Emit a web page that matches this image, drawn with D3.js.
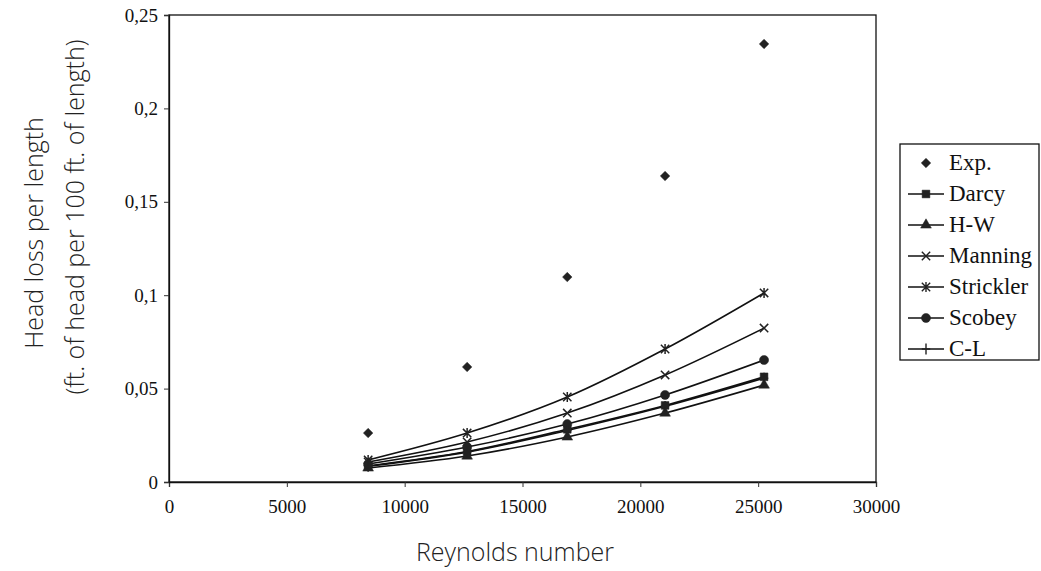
<!DOCTYPE html>
<html>
<head>
<meta charset="utf-8">
<script src="https://cdn.jsdelivr.net/npm/d3@7"></script>
<style>
  body { margin: 0; background: #fff; }
  svg { display: block; }
</style>
</head>
<body>
<div id="chart"></div>
<script>
// datos del grafico
var reynolds = [8450, 12650, 16900, 21050, 25250];
var expData = [0.0262, 0.0616, 0.1097, 0.1638, 0.2345];
var darcy = [0.0086, 0.0163, 0.0282, 0.0410, 0.0563];
var hw = [0.0075, 0.0139, 0.0241, 0.0369, 0.0519];
var manning = [0.0107, 0.0214, 0.0369, 0.0573, 0.0824];
var strickler = [0.0118, 0.0262, 0.0455, 0.0712, 0.1012];
var scobey = [0.0096, 0.0187, 0.0310, 0.0466, 0.0653];
var cl = [0.0084, 0.0160, 0.0276, 0.0405, 0.0556];

var xTicks = [0, 5000, 10000, 15000, 20000, 25000, 30000];
var yTicks = [0, 0.05, 0.1, 0.15, 0.2, 0.25];

var W = 1041, H = 571;
// ojo: "top" es window.top, no se puede usar
var pLeft = 169, pRight = 876, pTop = 15, pBottom = 482;

var svg = d3.select("#chart").append("svg")
  .attr("width", W).attr("height", H);

var x = d3.scaleLinear().domain([0, 30000]).range([pLeft, pRight]);
var y = d3.scaleLinear().domain([0, 0.25]).range([pBottom, pTop]);

// marcadores propios
var symX = {draw: function(c, s) {
  var r = Math.sqrt(s) / 2;
  c.moveTo(-r, -r); c.lineTo(r, r);
  c.moveTo(-r, r); c.lineTo(r, -r);
}};
var symStar = {draw: function(c, s) {
  var r = Math.sqrt(s) / 2;
  c.moveTo(-r, -r); c.lineTo(r, r);
  c.moveTo(-r, r); c.lineTo(r, -r);
  c.moveTo(0, -r * 1.2); c.lineTo(0, r * 1.2);
}};
var symPlus = {draw: function(c, s) {
  var r = Math.sqrt(s) / 2;
  c.moveTo(-r, 0); c.lineTo(r, 0);
  c.moveTo(0, -r * 1.3); c.lineTo(0, r * 1.3);
}};
var symDiamond = {draw: function(c, s) {
  var r = Math.sqrt(s) / 2;
  c.moveTo(0, -r); c.lineTo(r, 0); c.lineTo(0, r); c.lineTo(-r, 0); c.closePath();
}};

var series = [
  {name: "Exp.", values: expData, line: false, type: symDiamond, size: 90, fill: true},
  {name: "Darcy", values: darcy, line: true, type: d3.symbolSquare, size: 60, fill: true},
  {name: "H-W", values: hw, line: true, type: d3.symbolTriangle, size: 50, fill: true},
  {name: "Manning", values: manning, line: true, type: symX, size: 70, fill: false},
  {name: "Strickler", values: strickler, line: true, type: symStar, size: 70, fill: false},
  {name: "Scobey", values: scobey, line: true, type: d3.symbolCircle, size: 65, fill: true},
  {name: "C-L", values: cl, line: true, type: symPlus, size: 70, fill: false}
];

// marco
svg.append("rect")
  .attr("x", pLeft).attr("y", pTop)
  .attr("width", pRight - pLeft).attr("height", pBottom - pTop)
  .attr("fill", "none").attr("stroke", "#111").attr("stroke-width", 1.3);

var fmt = function(d) { return d === 0 ? "0" : d3.format("~g")(d).replace(".", ","); };

var gx = svg.append("g")
  .attr("transform", "translate(0," + pBottom + ")")
  .call(d3.axisBottom(x).tickValues(xTicks).tickSize(5).tickPadding(13).tickFormat(d3.format("d")));
var gy = svg.append("g")
  .attr("transform", "translate(" + pLeft + ",0)")
  .call(d3.axisLeft(y).tickValues(yTicks).tickSize(5).tickPadding(6).tickFormat(fmt));

[gx, gy].forEach(function(g) {
  g.select(".domain").attr("stroke", "#111").attr("stroke-width", 1.3);
  g.selectAll(".tick line").attr("stroke", "#333");
  g.selectAll("text")
    .attr("fill", "#111")
    .style("font-family", "'Liberation Serif', 'DejaVu Serif', serif")
    .style("font-size", "19px");
});

var line = d3.line()
  .x(function(d, i) { return x(reynolds[i]); })
  .y(function(d) { return y(d); })
  .curve(d3.curveMonotoneX);

series.forEach(function(s) {
  if (s.line) {
    svg.append("path")
      .datum(s.values)
      .attr("d", line)
      .attr("fill", "none")
      .attr("stroke", "#111")
      .attr("stroke-width", 1.6);
  }
});

series.forEach(function(s) {
  svg.append("g").selectAll("path")
    .data(s.values).enter()
    .append("path")
    .attr("transform", function(d, i) { return "translate(" + x(reynolds[i]) + "," + y(d) + ")"; })
    .attr("d", d3.symbol().type(s.type).size(s.size))
    .attr("fill", s.fill ? "#222" : "none")
    .attr("stroke", "#222")
    .attr("stroke-width", s.fill ? 0.5 : 1.5);
});

// leyenda
var lg = svg.append("g");
lg.append("rect")
  .attr("x", 900).attr("y", 144).attr("width", 139).attr("height", 216)
  .attr("fill", "#fff").attr("stroke", "#111").attr("stroke-width", 1.3);

series.forEach(function(s, i) {
  var yy = 163 + i * 31;
  if (s.line) {
    lg.append("line")
      .attr("x1", 908).attr("x2", 944).attr("y1", yy).attr("y2", yy)
      .attr("stroke", "#111").attr("stroke-width", 1.5);
  }
  lg.append("path")
    .attr("transform", "translate(926," + yy + ")")
    .attr("d", d3.symbol().type(s.type).size(s.size))
    .attr("fill", s.fill ? "#222" : "none")
    .attr("stroke", "#222")
    .attr("stroke-width", s.fill ? 0.5 : 1.4);
  lg.append("text")
    .attr("x", 949).attr("y", yy + 7)
    .style("font-family", "'Liberation Serif', 'DejaVu Serif', serif")
    .style("font-size", "23px")
    .attr("fill", "#111")
    .text(s.name);
});

// titulos de ejes
var sans = "'Open Sans', 'Noto Sans', sans-serif";
svg.append("text")
  .attr("x", 515).attr("y", 561)
  .attr("text-anchor", "middle")
  .style("font-family", sans)
  .style("font-size", "25px")
  .style("font-weight", 300)
  .attr("fill", "#222")
  .text("Reynolds number");

svg.append("text")
  .attr("transform", "translate(43,233) rotate(-90)")
  .attr("text-anchor", "middle")
  .style("font-family", sans)
  .style("font-size", "25px")
  .style("font-weight", 300)
  .attr("fill", "#222")
  .text("Head loss per length");

svg.append("text")
  .attr("transform", "translate(84,217) rotate(-90)")
  .attr("text-anchor", "middle")
  .style("font-family", sans)
  .style("font-size", "25px")
  .style("font-weight", 300)
  .attr("fill", "#222")
  .text("(ft. of head per 100 ft. of length)");
</script>
</body>
</html>
